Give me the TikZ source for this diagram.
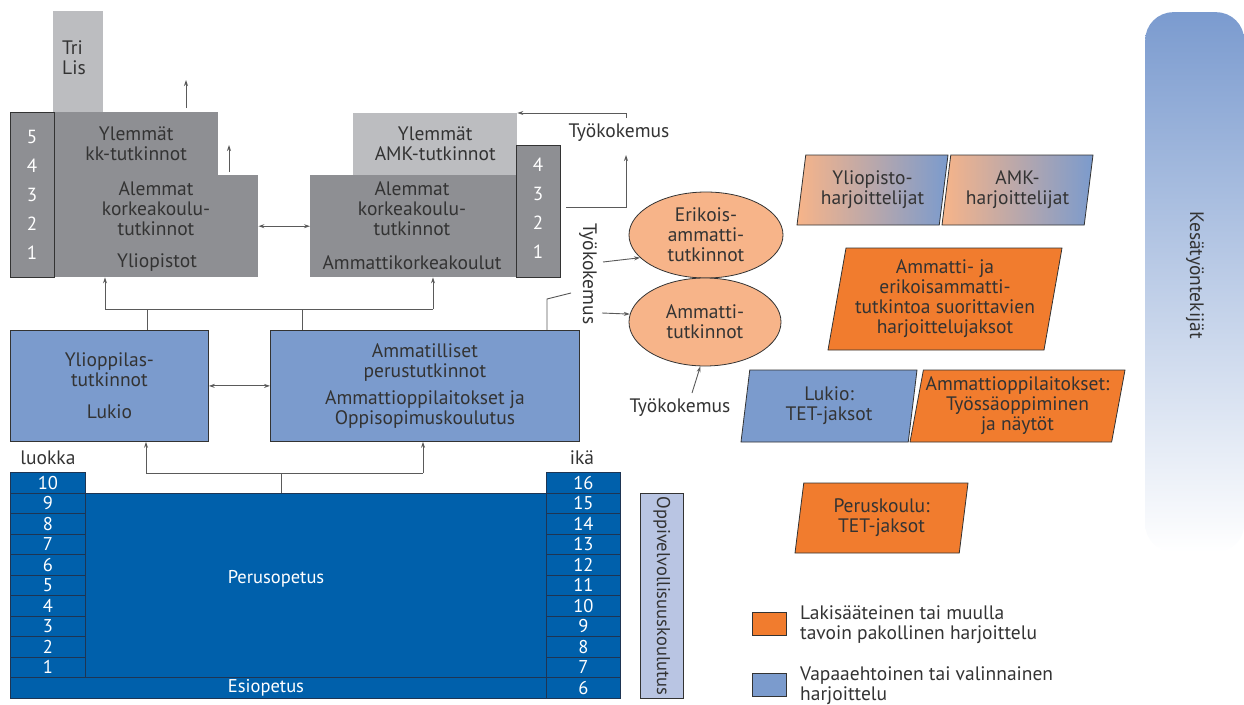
\documentclass[tikz,border=0pt]{standalone}
\usepackage{fontspec}
\setmainfont{PT Sans}
\usetikzlibrary{shapes.geometric,arrows.meta}

\definecolor{grayD}{HTML}{8E8F93}
\definecolor{grayL}{HTML}{BCBDC0}
\definecolor{blueM}{HTML}{7B9BCD}
\definecolor{blueD}{HTML}{0060AB}
\definecolor{navy}{HTML}{1E3553}
\definecolor{salm}{HTML}{F7B489}
\definecolor{orng}{HTML}{F17C2E}
\definecolor{oppic}{HTML}{B9C5E3}
\definecolor{kesac}{HTML}{7B9BCF}
\definecolor{txtc}{HTML}{333333}
\definecolor{linec}{HTML}{5A5A5A}

\tikzset{
  lbl/.style={inner sep=0pt, align=center, text=txtc, font=\fontsize{19.5}{20}\selectfont},
  wlbl/.style={lbl, text=white, font=\fontsize{18.5}{19}\selectfont},
  gbox/.style={lbl, anchor=north west, fill=grayD},
  lgbox/.style={lbl, anchor=north west, fill=grayL},
  numcol/.style={anchor=north west, fill=grayD, draw=txtc, line width=1.3pt, inner sep=0pt},
  numw/.style={lbl, text=white, font=\fontsize{19}{20}\selectfont},
  bbox/.style={lbl, anchor=north west, fill=blueM, draw=txtc, line width=0.8pt},
  dcell/.style={wlbl, anchor=north west, fill=blueD, draw=navy, line width=0.8pt, minimum height=20.5pt},
  ell/.style={lbl, ellipse, fill=salm, draw=txtc, line width=0.8pt},
  para/.style={lbl, trapezium, trapezium left angle=77, trapezium right angle=103,
    trapezium stretches body=true, draw=txtc, line width=0.8pt},
  lgnd/.style={anchor=north west, draw=txtc, line width=0.8pt, minimum width=34pt, minimum height=23pt},
  kbar/.style={anchor=north west, rounded corners=28pt, top color=kesac, bottom color=white},
  conn/.style={draw=linec, line width=0.9pt},
  arr/.style={conn, -{Stealth[length=6pt,width=4pt]}},
  darr/.style={conn, {Stealth[length=6pt,width=4pt]}-{Stealth[length=6pt,width=4pt]}}
}

\begin{document}
\begin{tikzpicture}[x=1pt,y=1pt,yscale=-1]
\useasboundingbox (0,0) rectangle (1244,704);

% Kesatyontekijat bar
\node[kbar, minimum width=99, minimum height=540] (kesa) at (1145,12) {};
\node[lbl, rotate=-90, font=\fontsize{19.5}{20}\selectfont] (kesa-t) at (1195,275) {Kesätyöntekijät};

% Yliopistot
\node[lgbox, minimum width=50, minimum height=101] (tri) at (53,11) {};
\node[lbl, anchor=west, align=left] (tri-t) at (62,58) {Tri\\Lis};
\node[gbox, minimum width=164, minimum height=64] (ylkk) at (54,112) {Ylemmät\\kk-tutkinnot};
\node[gbox, minimum width=204, minimum height=102] (yoA) at (54,175) {};
\node[lbl] (yoA-t) at (156,209) {Alemmat\\korkeakoulu-\\tutkinnot};
\node[lbl] (yoA-n) at (157,263) {Yliopistot};
\node[numcol, minimum width=44, minimum height=165] (yoN) at (10,112) {};
\foreach \n [count=\i from 0] in {5,4,3,2,1}
  \node[numw] (yoN-\n) at (32,137+29*\i) {\n};

% Ammattikorkeakoulut
\node[lgbox, minimum width=164, minimum height=62] (amkY) at (353,113) {Ylemmät\\AMK-tutkinnot};
\node[gbox, minimum width=206, minimum height=102] (amkA) at (310,175) {};
\node[lbl] (amkA-t) at (412,209) {Alemmat\\korkeakoulu-\\tutkinnot};
\node[lbl] (amkA-n) at (412,263) {Ammattikorkeakoulut};
\node[numcol, minimum width=44, minimum height=132] (amkN) at (516,145) {};
\foreach \n [count=\i from 0] in {4,3,2,1}
  \node[numw] (amkN-\n) at (538,165+29*\i) {\n};

% jatko-opinnot
\coordinate (up1a) at (186,108); \coordinate (up1b) at (186,80);
\coordinate (up2a) at (229,172); \coordinate (up2b) at (229,145);
\draw[arr] (up1a) -- (up1b);
\draw[arr] (up2a) -- (up2b);
\draw[darr] (yoA) -- (amkA);

% toinen aste
\node[bbox, minimum width=198, minimum height=111] (lukio) at (10,330) {Ylioppilas-\\tutkinnot\\[12pt]Lukio};
\node[bbox, minimum width=309, minimum height=111] (ammat) at (270,330)
  {Ammatilliset\\perustutkinnot\\[7pt]Ammattioppilaitokset ja\\Oppisopimuskoulutus};
\draw[darr] (lukio) -- (ammat);

\coordinate (kL) at (105,309); \coordinate (kR) at (433,309);
\coordinate (k1) at (147,309); \coordinate (k2) at (302,309);
\draw[conn] (kL) -- (kR);
\draw[arr] (kL) -- (kL |- yoA.south);
\draw[arr] (kR) -- (kR |- amkA.south);
\draw[conn] (k1) -- (k1 |- lukio.north);
\draw[conn] (k2) -- (k2 |- ammat.north);

% Tyokokemus
\node[lbl] (tyo1) at (619,133) {Työkokemus};
\coordinate (t6) at (626,118);
\draw[arr] (t6) |- (amkY.north east);
\coordinate (t4) at (566,207); \coordinate (t5) at (626,155);
\draw[arr] (t4) -| (t5);

\node[ell, minimum width=154, minimum height=86] (erik) at (706,235) {Erikois-\\ammatti-\\tutkinnot};
\node[ell, minimum width=152, minimum height=88] (amt) at (705,322) {Ammatti-\\tutkinnot};

\node[lbl, rotate=-90] (tyo2) at (588,274) {Työkokemus};
\coordinate (t1) at (547,299); \coordinate (t2) at (571,293);
\draw[conn] (t1 |- ammat.north) -- (t1) -- (t2);
\coordinate (t3) at (603,262); \coordinate (t7) at (602,313);
\draw[arr] (t3) -- (erik.199);
\draw[arr] (t7) -- (amt.174);
\node[lbl] (tyo3) at (680,408) {Työkokemus};
\coordinate (t8) at (692,393);
\draw[arr] (t8) -- (amt.264);

% harjoittelu
\node[para, left color=salm, right color=blueM, minimum width=151, minimum height=70] (yliH) at (872.5,190) {Yliopisto-\\harjoittelijat};
\node[para, left color=salm, right color=blueM, minimum width=151, minimum height=70] (amkH) at (1017.5,190) {AMK-\\harjoittelijat};
\node[para, fill=orng, minimum width=234, minimum height=102] (ammH) at (945,299)
  {Ammatti- ja\\erikoisammatti-\\tutkintoa suorittavien\\harjoittelujaksot};
\node[para, fill=blueM, minimum width=176, minimum height=72] (lukH) at (829,406) {Lukio:\\TET-jaksot};
\node[para, fill=orng, minimum width=215, minimum height=72] (ammoH) at (1017.5,406)
  {Ammattioppilaitokset:\\Työssäoppiminen\\ja näytöt};
\node[para, fill=orng, minimum width=173, minimum height=70] (perH) at (881.5,518) {Peruskoulu:\\TET-jaksot};

% selite
\node[lgnd, fill=orng] (lg1) at (752,612) {};
\node[lbl, anchor=west, align=left] (lg1-t) at (800,625) {Lakisääteinen tai muulla\\tavoin pakollinen harjoittelu};
\node[lgnd, fill=blueM] (lg2) at (752,673) {};
\node[lbl, anchor=west, align=left] (lg2-t) at (800,686) {Vapaaehtoinen tai valinnainen\\harjoittelu};

% perusopetus
\node[lbl] (luokka) at (48,458) {luokka};
\node[lbl] (ika) at (582,458) {ikä};
\foreach \n [count=\i from 0] in {10,9,...,1}
  \node[dcell, minimum width=75] (lk-\n) at (10,472+20.5*\i) {\n};
\foreach \n [count=\i from 0] in {16,15,...,6}
  \node[dcell, minimum width=74] (ik-\n) at (546,472+20.5*\i) {\n};
\node[dcell, minimum width=536] (esi) at (10,677) {};
\node[wlbl] (esi-t) at (266,688) {Esiopetus};
\node[dcell, minimum width=461, minimum height=184.5] (perus) at (85,492.5) {};
\node[wlbl] (perus-t) at (276,579) {Perusopetus};

\coordinate (jL) at (146,473); \coordinate (jR) at (423,473); \coordinate (jM) at (281,473);
\draw[conn] (jL) -- (jR);
\draw[arr] (jL) -- (jL |- lukio.south);
\draw[arr] (jR) -- (jR |- ammat.south);
\draw[conn] (jM) -- (jM |- perus.north);

\node[anchor=north west, fill=oppic, draw=txtc, line width=0.8pt, minimum width=43, minimum height=205] (oppi) at (640,493) {};
\node[lbl, rotate=-90, font=\fontsize{18.5}{19}\selectfont] (oppi-t) at (oppi.center) {Oppivelvollisuuskoulutus};

\end{tikzpicture}
\end{document}
